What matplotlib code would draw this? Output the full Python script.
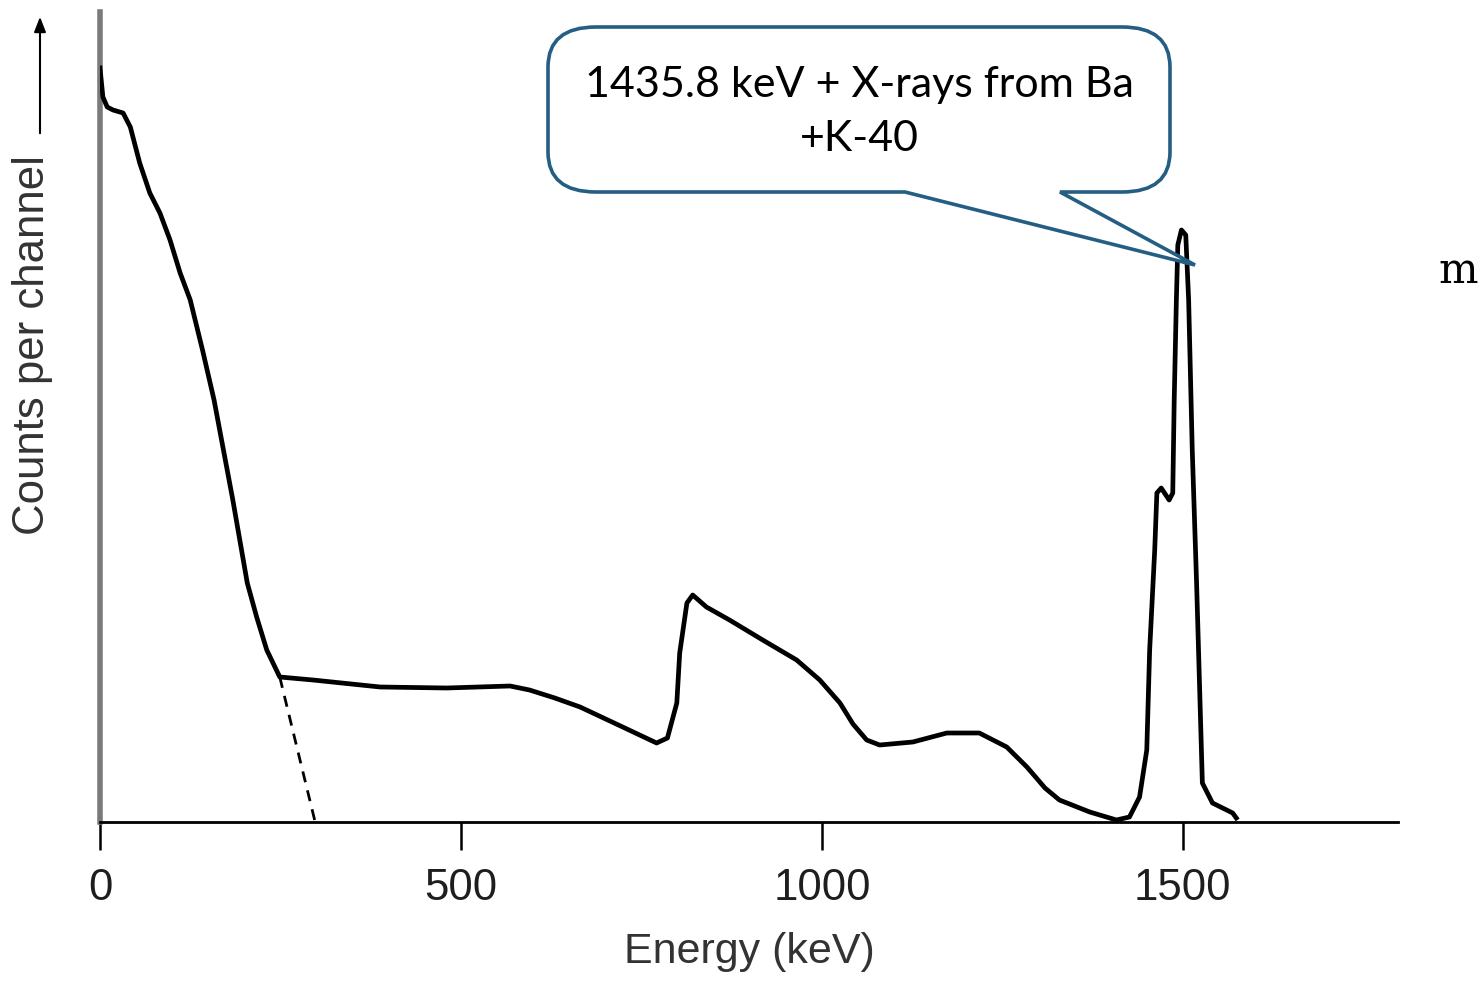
import matplotlib
matplotlib.use("Agg")
import matplotlib.pyplot as plt
from matplotlib.path import Path
from matplotlib.patches import PathPatch

# spectrum (energy in keV, counts in arbitrary units)
energy_kev = [0, 4, 10, 18, 32, 42, 55, 69, 83, 97, 111, 125, 142, 158, 171, 184, 204, 217, 231, 249,
              295, 388, 480, 568, 595, 630, 665, 724, 771, 786, 799, 803, 813, 821, 840, 872, 918,
              965, 997, 1025, 1043, 1062, 1080, 1126, 1173, 1218, 1256, 1284, 1309, 1329, 1371, 1408,
              1426, 1440, 1450, 1454, 1461, 1464, 1470, 1481, 1486, 1488, 1491, 1493, 1498, 1504,
              1508, 1513, 1519, 1523, 1527, 1541, 1569, 1574]
counts = [754, 725, 715, 712, 709, 695, 659, 629, 609, 582, 549, 522, 472, 422, 372, 322, 239, 205, 172, 145,
          142, 135, 134, 136, 132, 124, 115, 95, 79, 84, 119, 169, 219, 227, 215, 202, 182,
          162, 142, 119, 98, 82, 77, 80, 89, 89, 75, 55, 34, 22, 10, 2,
          5, 25, 72, 172, 272, 329, 334, 322, 329, 422, 522, 577, 592, 587,
          522, 372, 239, 139, 39, 19, 9, 4]

# extrapolated Compton continuum (dashed)
dash_energy = [249, 298]
dash_counts = [145, 0]

xticks = [0, 500, 1000, 1500]
callout = "1435.8 keV + X-rays from Ba\n+K-40"

W, H = 1479, 985
fig = plt.figure(figsize=(W / 100, H / 100), dpi=100)
fig.patch.set_facecolor("white")

ax = fig.add_axes([100 / W, (H - 822) / H, (1398 - 100) / W, (822 - 12) / H])
ax.plot(energy_kev, counts, color="black", lw=3.4, solid_joinstyle="round", zorder=3)
ax.plot(dash_energy, dash_counts, color="black", lw=2, ls=(0, (4, 3)), zorder=3)
ax.set_xlim(0, 1798)
ax.set_ylim(0, 810)

for s in ["top", "right"]:
    ax.spines[s].set_visible(False)
ax.spines["left"].set_color("#7a7a7a")
ax.spines["left"].set_linewidth(4)
ax.spines["bottom"].set_color("black")
ax.spines["bottom"].set_linewidth(2)

ax.set_yticks([])
ax.set_xticks(xticks)
ax.tick_params(axis="x", length=20, width=1.8, pad=13, labelsize=31.5, labelcolor="#1e1e1e")
for lab in ax.get_xticklabels():
    lab.set_family("Liberation Sans")
ax.set_xlabel("Energy (keV)", fontsize=31, family="Liberation Sans", color="#333333", labelpad=17)

# y label with arrow pointing up
fig.text(33 / W, (H - 345) / H, "Counts per channel", rotation=90, ha="center", va="center",
         fontsize=31.5, family="Liberation Sans", color="#333333")

# overlay in pixel coordinates for the decorations
ov = fig.add_axes([0, 0, 1, 1], zorder=5)
ov.set_xlim(0, W)
ov.set_ylim(H, 0)
ov.axis("off")
ov.patch.set_alpha(0)

ov.annotate("", xy=(40, 14), xytext=(40, 136),
            arrowprops=dict(arrowstyle="-|>,head_length=0.9,head_width=0.35", color="black", lw=1.5))

# speech bubble
l, r, t, b = 548, 1170, 27, 192
rx, ry = 48, 40
tip = (1195, 265)
base_l, base_r = 905, 1060
verts = [
    (l + rx, t), (r - rx, t), (r, t), (r, t + ry), (r, b - ry), (r, b), (r - rx, b),
    (base_r, b), tip, (base_l, b), (l + rx, b), (l, b), (l, b - ry), (l, t + ry), (l, t),
    (l + rx, t), (l + rx, t),
]
codes = [
    Path.MOVETO, Path.LINETO, Path.CURVE3, Path.CURVE3, Path.LINETO, Path.CURVE3, Path.CURVE3,
    Path.LINETO, Path.LINETO, Path.LINETO, Path.LINETO, Path.CURVE3, Path.CURVE3, Path.LINETO,
    Path.CURVE3, Path.CURVE3, Path.CLOSEPOLY,
]
ov.add_patch(PathPatch(Path(verts, codes), facecolor="white", edgecolor="#245e83", lw=2.6,
                       joinstyle="miter"))
ov.text((l + r) / 2, 112, callout, ha="center", va="center", fontsize=31, family="Lato",
        color="black", linespacing=1.5)

# stray character at the right edge
ov.text(1438, 283, "m", ha="left", va="baseline", fontsize=30, family="DejaVu Serif", color="black")

fig.savefig("out.png", dpi=100)
